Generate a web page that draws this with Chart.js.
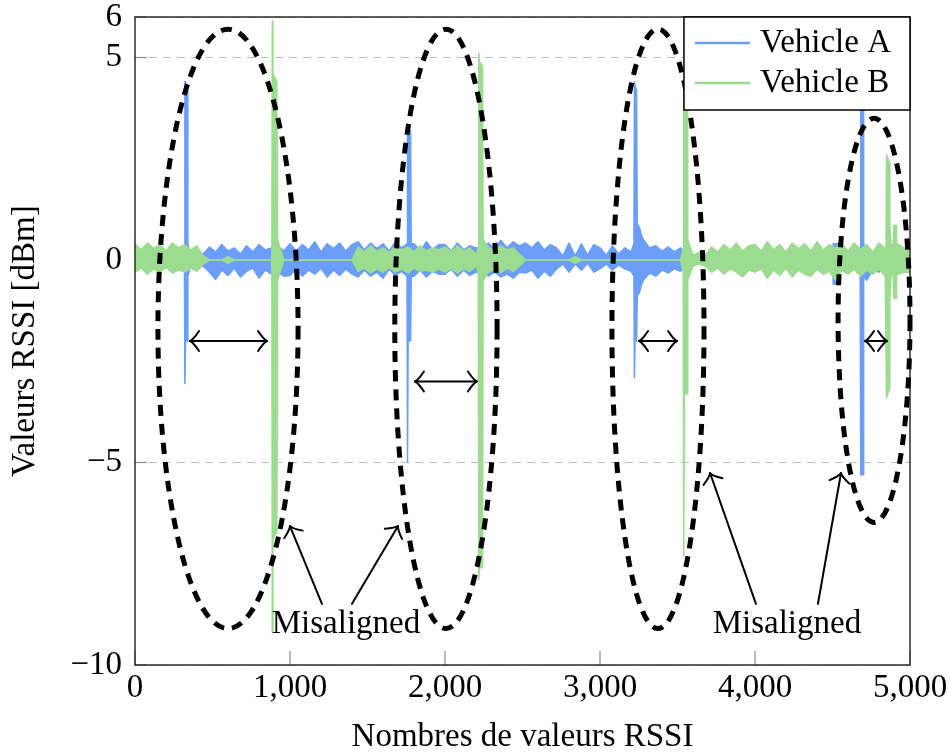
<!DOCTYPE html>
<html>
<head>
<meta charset="utf-8">
<script src="https://cdn.jsdelivr.net/npm/chart.js@4.4.0/dist/chart.umd.min.js"></script>
<style>
html,body{margin:0;padding:0;background:#fff;}
#wrap{width:950px;height:754px;}
</style>
</head>
<body>
<div id="wrap"><canvas id="c" width="950" height="754"></canvas></div>
<script>
// ---------- DATA ----------
const seriesNames = ['Vehicle A', 'Vehicle B'];
const sampleStep = 40;            // envelope of the dense RSSI trace, read every 40 samples
const xTickValues = [0, 1000, 2000, 3000, 4000, 5000];
const yTickValues = [-10, -5, 0, 5, 6];

// Vehicle A: upper / lower envelope of the noise band (x = 0, 40, ..., 5000)
const upperA = [
  0.22,0.12,0.25,0.15,0.22,0.12,0.25,0.18,0.2,0.12,0.22,0.15,0.32,0.2,0.38,0.22,0.3,0.15,0.35,0.2,0.38,0.25,0.3,0.35,0.22,
  0.4,0.22,0.38,0.25,0.45,0.2,0.4,0.28,0.42,0.22,0.38,0.45,0.25,0.42,0.28,0.4,0.22,0.45,0.3,0.35,0.4,0.22,0.45,0.25,0.38,
  0.38,0.22,0.42,0.25,0.35,0.3,0.3,0.42,0.28,0.48,0.3,0.45,0.35,0.42,0.3,0.45,0.25,0.38,0.3,0.1,0.42,0.1,0.4,0.12,0.38,
  0.3,0.12,0.35,0.15,0.3,0.2,0.45,0.5,0.3,0.35,0.22,0.32,0.2,0.3,0.08,0.06,0.08,0.06,0.08,0.1,0.06,0.08,0.1,0.06,0.08,
  0.08,0.06,0.1,0.08,0.06,0.1,0.08,0.06,0.1,0.08,0.06,0.1,0.12,0.4,0.2,0.12,0.2,0.2,0.25,0.15,0.3,0.18,0.25,0.3,0.2,
  0.2
];
const lowerA = [
  -0.22,-0.12,-0.2,-0.15,-0.25,-0.12,-0.2,-0.18,-0.22,-0.12,-0.2,-0.15,-0.3,-0.48,-0.25,-0.38,-0.2,-0.42,-0.28,-0.2,-0.45,-0.25,-0.35,-0.3,-0.4,
  -0.38,-0.22,-0.4,-0.25,-0.35,-0.2,-0.42,-0.25,-0.38,-0.22,-0.35,-0.42,-0.25,-0.4,-0.3,-0.45,-0.22,-0.38,-0.28,-0.3,-0.4,-0.25,-0.42,-0.28,-0.35,
  -0.35,-0.22,-0.4,-0.25,-0.38,-0.3,-0.3,-0.4,-0.3,-0.42,-0.35,-0.45,-0.3,-0.32,-0.25,-0.45,-0.28,-0.4,-0.22,-0.1,-0.3,-0.1,-0.25,-0.08,-0.3,
  -0.22,-0.1,-0.25,-0.12,-0.22,-0.28,-0.5,-0.5,-0.32,-0.4,-0.25,-0.32,-0.22,-0.28,-0.08,-0.1,-0.06,-0.08,-0.1,-0.06,-0.08,-0.1,-0.06,-0.08,-0.1,
  -0.08,-0.1,-0.06,-0.08,-0.1,-0.06,-0.08,-0.1,-0.06,-0.08,-0.1,-0.06,-0.12,-0.6,-0.2,-0.12,-0.2,-0.2,-0.5,-0.25,-0.3,-0.2,-0.35,-0.25,-0.3,
  -0.2
];

// Vehicle B: upper / lower envelope of the noise band (x = 0, 40, ..., 5000)
const upperB = [
  0.4,0.25,0.42,0.28,0.38,0.22,0.42,0.3,0.38,0.25,0.35,0.1,0,0,0,0.08,0,0,0,0,0,0,0,0,0,
  0,0,0,0,0,0,0,0,0,0,0,0.32,0.2,0.35,0.22,0.3,0.18,0.35,0.25,0.32,0.2,0.35,0.22,0.3,0.25,
  0.32,0.2,0.35,0.22,0.3,0.15,0.2,0.32,0.2,0.35,0.25,0.3,0.15,0,0,0,0,0,0,0,0,0.08,0,0,0,
  0,0,0,0,0,0,0,0,0,0,0,0,0,0,0,0.12,0.18,0.12,0.32,0.2,0.38,0.25,0.42,0.22,0.35,
  0.38,0.22,0.45,0.25,0.38,0.2,0.42,0.28,0.4,0.22,0.45,0.25,0.38,0.3,0.4,0.22,0.42,0.25,0.38,0.2,0.42,0.28,0.35,0.4,0.3,
  0.3
];
const lowerB = [
  -0.3,-0.2,-0.35,-0.22,-0.3,-0.18,-0.32,-0.25,-0.3,-0.2,-0.28,-0.1,0,0,0,-0.08,0,0,0,0,0,0,0,0,0,
  0,0,0,0,0,0,0,0,0,0,0,-0.28,-0.2,-0.32,-0.22,-0.3,-0.18,-0.3,-0.22,-0.32,-0.2,-0.28,-0.25,-0.3,-0.22,
  -0.3,-0.2,-0.32,-0.22,-0.28,-0.15,-0.2,-0.3,-0.22,-0.32,-0.2,-0.28,-0.15,0,0,0,0,0,0,0,0,-0.08,0,0,0,
  0,0,0,0,0,0,0,0,0,0,0,0,0,0,0,-0.15,-0.1,-0.15,-0.3,-0.2,-0.35,-0.22,-0.3,-0.42,-0.25,
  -0.3,-0.22,-0.45,-0.25,-0.38,-0.2,-0.42,-0.25,-0.35,-0.4,-0.22,-0.35,-0.28,-0.5,-0.25,-0.35,-0.22,-0.4,-0.25,-0.35,-0.22,-0.4,-0.28,-0.35,-0.3,
  -0.3
];

// Spikes, grouped: [sample index, max, min]
const spikesA = [
  [[319,0.3,-0.3],[322,4.4,-3.05],[326,4.4,-2.0],[338,4.2,-2.0],[341,0.4,-0.4]],
  [[1755,0.4,-0.4],[1758,3.3,-5.0],[1762,3.2,-2.0],[1778,3.2,-2.0],[1782,0.4,-0.4]],
  [[3219,0.4,-0.4],[3222,4.4,-2.9],[3226,4.3,-2.0],[3236,4.2,-2.0],[3240,0.9,-0.9],[3255,0.8,-0.8],[3268,0.6,-0.6]],
  [[4502,0.2,-0.2],[4505,0.4,-0.6],[4532,0.4,-0.6],[4535,0.2,-0.2]],
  [[4679,0.3,-0.3],[4682,4.3,-5.3],[4698,4.3,-5.3],[4701,0.4,-0.4]]
];
const spikesB = [
  [[883,0.4,-0.4],[886,5.9,-9.2],[890,4.6,-6.9],[915,4.4,-6.7],[920,0.5,-0.5]],
  [[2215,0.3,-0.3],[2218,5.1,-7.9],[2222,4.9,-7.6],[2242,4.8,-7.6],[2246,0.5,-0.5]],
  [[3537,0.3,-0.3],[3540,4.1,-7.3],[3544,4.0,-3.3],[3562,3.8,-3.3],[3566,0.5,-0.5]],
  [[4845,0.4,-0.4],[4848,2.6,-3.4],[4866,2.4,-3.2],[4870,0.8,-0.9]],
  [[4892,0.4,-0.4],[4895,0.85,-0.95],[4910,0.85,-0.95],[4913,0.4,-0.4]]
];

// Annotations (in data units)
const ellipses = [
  {cx:600,  cy:-1.7,  rx:452, ry:7.4},
  {cx:2006, cy:-1.7,  rx:330, ry:7.4},
  {cx:3374, cy:-1.7,  rx:297, ry:7.4},
  {cx:4768, cy:-1.49, rx:232, ry:4.99}
];
const gapArrows = [
  {x1:355,  x2:852,  y:-2.0},
  {x1:1806, x2:2206, y:-3.0},
  {x1:3252, x2:3497, y:-2.0},
  {x1:4710, x2:4852, y:-2.0}
];
const labelText = 'Misaligned';
const labels = [{x:1361, y:-9.21}, {x:4206, y:-9.21}];
const pointers = [
  {x1:1206, y1:-8.49, x2:1000, y2:-6.57},
  {x1:1400, y1:-8.49, x2:1697, y2:-6.57},
  {x1:4006, y1:-8.49, x2:3710, y2:-5.26},
  {x1:4406, y1:-8.49, x2:4555, y2:-5.26}
];

// ---------- BUILD ----------
function buildBand(upper, lower, groups){
  const ranges = groups.map(g=>[g[0][0], g[g.length-1][0]]);
  const pts = upper.map((hi,i)=>({x:i*sampleStep, hi, lo:lower[i]}))
                   .filter(p=>!ranges.some(([a,b])=>p.x>=a && p.x<=b));
  groups.forEach(g=>g.forEach(([x,hi,lo])=>pts.push({x, hi, lo})));
  pts.sort((a,b)=>a.x-b.x);
  return {upper: pts.map(p=>({x:p.x, y:p.hi})), lower: pts.map(p=>({x:p.x, y:p.lo}))};
}
const bandA = buildBand(upperA, lowerA, spikesA);
const bandB = buildBand(upperB, lowerB, spikesB);
const colA = '#6a9ef8', colB = '#9cdc90';
const seriesColors = [colA, colB];
const FONT = "'Liberation Serif','Times New Roman',serif";
const FS = 33;

function arrowHead(ctx, tx, ty, ang){
  const L = 9, W = 10;
  ctx.save();
  ctx.translate(tx, ty); ctx.rotate(ang);
  ctx.beginPath();
  ctx.moveTo(-L, -W);
  ctx.quadraticCurveTo(-L*0.35, -W*0.12, 0, 0);
  ctx.quadraticCurveTo(-L*0.35, W*0.12, -L, W);
  ctx.stroke();
  ctx.restore();
}

const overlay = {
  id: 'overlay',
  beforeDatasetsDraw(chart){
    const {ctx, chartArea:a, scales:{x:xs, y:ys}} = chart;
    ctx.save();
    ctx.strokeStyle = '#8c8c8c'; ctx.lineWidth = 1.2;
    xTickValues.forEach(v=>{ const X = xs.getPixelForValue(v); ctx.beginPath(); ctx.moveTo(X, a.bottom); ctx.lineTo(X, a.bottom-14); ctx.stroke(); });
    yTickValues.forEach(v=>{ const Y = ys.getPixelForValue(v); ctx.beginPath(); ctx.moveTo(a.left, Y); ctx.lineTo(a.left+12, Y); ctx.stroke(); });
    ctx.restore();
  },
  afterDatasetsDraw(chart){
    const {ctx, chartArea:a, scales:{x:xs, y:ys}} = chart;
    const px = v=>xs.getPixelForValue(v), py = v=>ys.getPixelForValue(v);
    ctx.save();
    ctx.strokeStyle = '#2b2b2b'; ctx.lineWidth = 1.5;
    ctx.strokeRect(a.left, a.top, a.right-a.left, a.bottom-a.top);
    ctx.strokeStyle = '#000'; ctx.lineWidth = 5; ctx.setLineDash([11,8]); ctx.lineCap = 'butt';
    ellipses.forEach(e=>{
      ctx.beginPath();
      ctx.ellipse(px(e.cx), py(e.cy), Math.abs(px(e.cx+e.rx)-px(e.cx)), Math.abs(py(e.cy+e.ry)-py(e.cy)), 0, 0, Math.PI*2);
      ctx.stroke();
    });
    ctx.setLineDash([]);
    ctx.lineWidth = 2; ctx.lineCap = 'round'; ctx.lineJoin = 'round';
    gapArrows.forEach(g=>{
      const X1 = px(g.x1), X2 = px(g.x2), Y = py(g.y);
      ctx.beginPath(); ctx.moveTo(X1, Y); ctx.lineTo(X2, Y); ctx.stroke();
      arrowHead(ctx, X2, Y, 0);
      arrowHead(ctx, X1, Y, Math.PI);
    });
    pointers.forEach(p=>{
      const X1 = px(p.x1), Y1 = py(p.y1), X2 = px(p.x2), Y2 = py(p.y2);
      ctx.beginPath(); ctx.moveTo(X1, Y1); ctx.lineTo(X2, Y2); ctx.stroke();
      arrowHead(ctx, X2, Y2, Math.atan2(Y2-Y1, X2-X1));
    });
    ctx.fillStyle = '#000'; ctx.font = FS + 'px ' + FONT;
    ctx.textAlign = 'center'; ctx.textBaseline = 'alphabetic';
    labels.forEach(l=>ctx.fillText(labelText, px(l.x), py(l.y)));
    ctx.restore();
  },
  afterDraw(chart){
    const {ctx, chartArea:a} = chart;
    ctx.save();
    ctx.font = FS + 'px ' + FONT;
    const tw = Math.max(...seriesNames.map(n=>ctx.measureText(n).width));
    const w = 76 + tw + 19, h = 93;
    const L = a.right - w, T = a.top;
    ctx.fillStyle = '#fff'; ctx.fillRect(L, T, w, h);
    ctx.strokeStyle = '#000'; ctx.lineWidth = 1.5; ctx.strokeRect(L, T, w, h);
    seriesNames.forEach((n,i)=>{
      const yy = T + 26 + i*40;
      ctx.strokeStyle = seriesColors[i]; ctx.lineWidth = 2.5;
      ctx.beginPath(); ctx.moveTo(L+11, yy); ctx.lineTo(L+66, yy); ctx.stroke();
      ctx.fillStyle = '#000'; ctx.textAlign = 'left'; ctx.textBaseline = 'alphabetic';
      ctx.fillText(n, L+76, T + 35 + i*40);
    });
    ctx.restore();
  }
};

const minus = v => v < 0 ? '\u2212' + Math.abs(v) : String(v);
const common = {pointRadius: 0, tension: 0, borderWidth: 1.5, borderJoinStyle: 'round'};

new Chart(document.getElementById('c'), {
  type: 'line',
  data: {
    datasets: [
      {...common, label: seriesNames[0], data: bandA.lower, borderColor: colA, backgroundColor: colA, fill: false, order: 2},
      {...common, label: seriesNames[0], data: bandA.upper, borderColor: colA, backgroundColor: colA, fill: '-1', order: 2},
      {...common, label: seriesNames[1], data: bandB.lower, borderColor: colB, backgroundColor: colB, fill: false, order: 1},
      {...common, label: seriesNames[1], data: bandB.upper, borderColor: colB, backgroundColor: colB, fill: '-1', order: 1}
    ]
  },
  options: {
    responsive: false,
    devicePixelRatio: 1,
    animation: false,
    layout: {padding: {left: 0, right: 40, top: 17, bottom: 0}},
    plugins: {legend: {display: false}, tooltip: {enabled: false}},
    scales: {
      x: {
        type: 'linear', min: 0, max: 5000,
        afterBuildTicks: s => { s.ticks = xTickValues.map(v=>({value:v})); },
        afterFit: s => { s.height = 89; s.paddingLeft = 0; s.paddingRight = 0; },
        grid: {display: false, drawTicks: false},
        border: {display: false},
        ticks: {
          autoSkip: false, maxRotation: 0, padding: 7, color: '#000',
          font: {family: FONT, size: FS, lineHeight: 1},
          callback: v => Number(v).toLocaleString('en-US')
        },
        title: {display: true, text: 'Nombres de valeurs RSSI', color: '#000',
          font: {family: FONT, size: FS, lineHeight: 1}, padding: {top: 0, bottom: 0}}
      },
      y: {
        type: 'linear', min: -10, max: 6,
        afterBuildTicks: s => { s.ticks = yTickValues.map(v=>({value:v})); },
        afterFit: s => { s.width = 135; s.paddingTop = 0; s.paddingBottom = 0; },
        grid: {color: '#bdbdbd', lineWidth: 1, drawTicks: false},
        border: {display: false, dash: [8, 6]},
        ticks: {
          autoSkip: false, padding: 13, color: '#000',
          font: {family: FONT, size: FS, lineHeight: 1},
          callback: v => minus(v)
        },
        title: {display: true, text: 'Valeurs RSSI [dBm]', color: '#000',
          font: {family: FONT, size: FS, lineHeight: 1.2}, padding: {top: 6, bottom: 0}}
      }
    }
  },
  plugins: [overlay]
});
</script>
</body>
</html>
